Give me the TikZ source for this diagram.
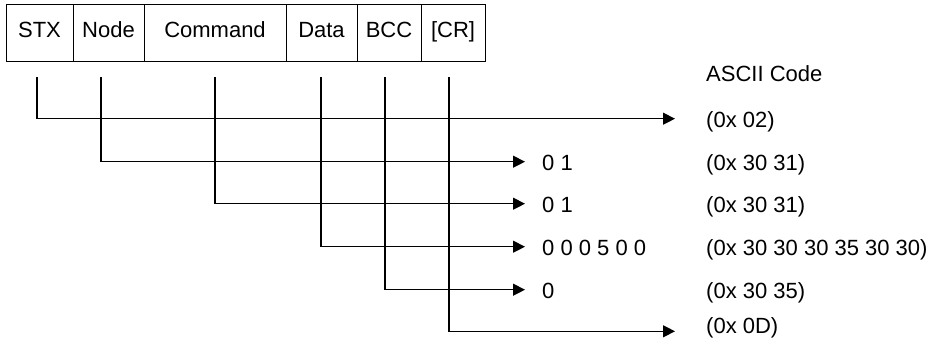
\documentclass[tikz,border=0pt]{standalone}
\usepackage{fontspec}
\setmainfont{Liberation Sans}
\usetikzlibrary{arrows.meta}
\begin{document}
\begin{tikzpicture}[x=1pt,y=-1pt,
  every node/.style={font=\fontsize{22}{26}\selectfont, inner sep=0pt},
  cell/.style={draw, line width=1.3pt, minimum height=57pt, anchor=north west},
  celltext/.style={anchor=base},
  conn/.style={line width=1.3pt, -{Triangle[length=12pt,width=12pt]}},
  lbl/.style={anchor=base west}]
\useasboundingbox (0,0) rectangle (940,343);
% frame cells
\node[cell, minimum width=67pt] (stx) at (6,4) {};
\node[cell, minimum width=71pt] (node) at (73,4) {};
\node[cell, minimum width=142pt] (cmd) at (144,4) {};
\node[cell, minimum width=71pt] (data) at (286,4) {};
\node[cell, minimum width=64pt] (bcc) at (357,4) {};
\node[cell, minimum width=64pt] (cr) at (421,4) {};
\node[celltext] (tstx) at (39.5,37) {STX};
\node[celltext] (tnode) at (108.5,37) {Node};
\node[celltext] (tcmd) at (215,37) {Command};
\node[celltext] (tdata) at (321.5,37) {Data};
\node[celltext] (tbcc) at (389,37) {BCC};
\node[celltext] (tcr) at (453,37) {[CR]};
% start points
\coordinate (s1) at (37,77);
\coordinate (s2) at (101,77);
\coordinate (s3) at (215,77);
\coordinate (s4) at (321,77);
\coordinate (s5) at (385,77);
\coordinate (s6) at (449,77);
% end points
\coordinate (e1) at (675,118.7);
\coordinate (e2) at (525,161.7);
\coordinate (e3) at (525,203.7);
\coordinate (e4) at (525,246.7);
\coordinate (e5) at (525,289.7);
\coordinate (e6) at (675,331.3);
\draw[conn] (s1) |- (e1);
\draw[conn] (s2) |- (e2);
\draw[conn] (s3) |- (e3);
\draw[conn] (s4) |- (e4);
\draw[conn] (s5) |- (e5);
\draw[conn] (s6) |- (e6);
% values
\node[lbl] (v2) at (542,170.7) {0 1};
\node[lbl] (v3) at (542,212.7) {0 1};
\node[lbl] (v4) at (542,255.7) {0 0 0 5 0 0};
\node[lbl] (v5) at (542,298.7) {0};
% ascii
\node[lbl] (hdr) at (706,81.7) {ASCII Code};
\node[lbl] (a1) at (706,127.7) {(0x 02)};
\node[lbl] (a2) at (706,170.7) {(0x 30 31)};
\node[lbl] (a3) at (706,212.7) {(0x 30 31)};
\node[lbl] (a4) at (706,255.7) {(0x 30 30 30 35 30 30)};
\node[lbl] (a5) at (706,298.7) {(0x 30 35)};
\node[lbl] (a6) at (706,333) {(0x 0D)};
\end{tikzpicture}
\end{document}
